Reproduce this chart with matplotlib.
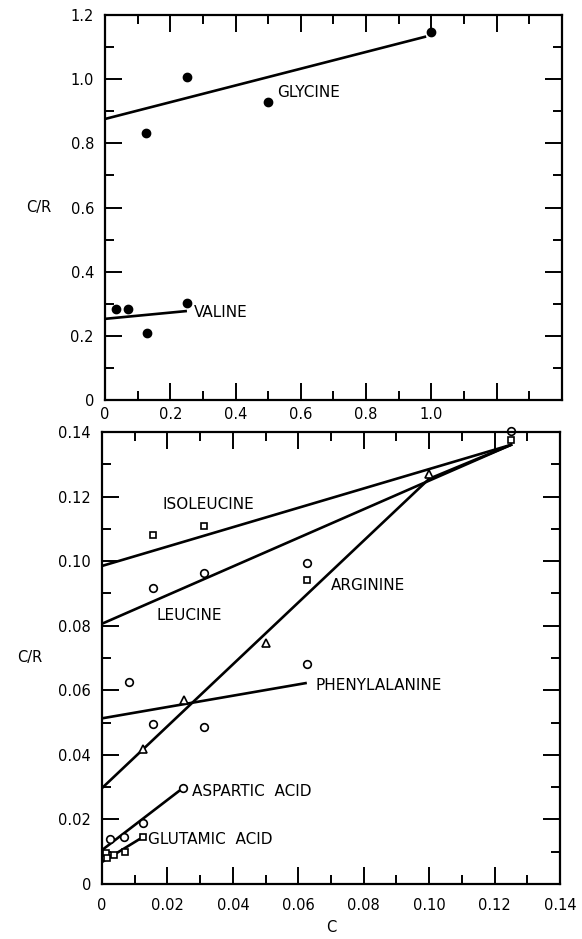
import matplotlib
matplotlib.use('Agg')
import matplotlib.pyplot as plt
from matplotlib.ticker import MultipleLocator, FixedLocator, FixedFormatter

# ---- top panel: glycine and valine (C vs C/R) ----
gly_c = [0.125, 0.25, 0.5, 1.0]
gly_cr = [0.832, 1.007, 0.929, 1.147]
gly_fit_c = [0.0, 0.98]
gly_fit_cr = [0.876, 1.132]

val_c = [0.035, 0.07, 0.13, 0.25]
val_cr = [0.284, 0.284, 0.209, 0.303]
val_fit_c = [0.0, 0.247]
val_fit_cr = [0.253, 0.277]

top_xticks = [0, 0.2, 0.4, 0.6, 0.8, 1.0, 1.2]
top_xlabels = ['0', '0.2', '0.4', '0.6', '0.8', '1.0', '']
top_yticks = [0, 0.2, 0.4, 0.6, 0.8, 1.0, 1.2]
top_ylabels = ['0', '0.2', '0.4', '0.6', '0.8', '1.0', '1.2']

# ---- bottom panel ----
ile_c = [0.0156, 0.0313, 0.0625, 0.125]
ile_cr = [0.108, 0.111, 0.094, 0.1375]
ile_fit_c = [0.0, 0.125]
ile_fit_cr = [0.0985, 0.136]

leu_c = [0.0156, 0.0313, 0.0625, 0.125]
leu_cr = [0.0917, 0.0963, 0.0994, 0.1403]
leu_fit_c = [0.0, 0.125]
leu_fit_cr = [0.0806, 0.136]

arg_c = [0.0125, 0.025, 0.05, 0.1]
arg_cr = [0.0419, 0.0571, 0.0745, 0.127]
arg_fit_c = [0.0, 0.1, 0.125]
arg_fit_cr = [0.0297, 0.1255, 0.136]

phe_c = [0.0083, 0.0156, 0.0313, 0.0625]
phe_cr = [0.0627, 0.0496, 0.0486, 0.0682]
phe_fit_c = [0.0, 0.0622]
phe_fit_cr = [0.0513, 0.0622]

asp_c = [0.0025, 0.0067, 0.0124, 0.0247]
asp_cr = [0.0138, 0.0144, 0.019, 0.0297]
asp_fit_c = [0.0, 0.0247]
asp_fit_cr = [0.0105, 0.0297]

glu_c = [0.0013, 0.0016, 0.0038, 0.0069, 0.0126]
glu_cr = [0.0097, 0.008, 0.009, 0.0099, 0.0146]
glu_fit_c = [0.0, 0.0126]
glu_fit_cr = [0.0068, 0.0146]

bot_ticks = [0, 0.02, 0.04, 0.06, 0.08, 0.10, 0.12, 0.14]
bot_labels = ['0', '0.02', '0.04', '0.06', '0.08', '0.10', '0.12', '0.14']

plt.rcParams['font.family'] = ['DejaVu Sans']
LW = 1.9
LBL = dict(fontsize=11, ha='left', va='center')


def style_axes(ax, xmaj, xlab, xmin, ymaj, ylab, ymin, xpad):
    ax.xaxis.set_major_locator(FixedLocator(xmaj))
    ax.xaxis.set_major_formatter(FixedFormatter(xlab))
    ax.yaxis.set_major_locator(FixedLocator(ymaj))
    ax.yaxis.set_major_formatter(FixedFormatter(ylab))
    ax.xaxis.set_minor_locator(MultipleLocator(xmin))
    ax.yaxis.set_minor_locator(MultipleLocator(ymin))
    ax.tick_params(which='both', direction='in', top=True, right=True,
                   width=1.4, labelsize=10.5)
    ax.tick_params(which='major', length=12)
    ax.tick_params(which='minor', length=6.5)
    ax.tick_params(axis='y', pad=8)
    ax.tick_params(axis='x', pad=xpad)
    for s in ax.spines.values():
        s.set_linewidth(1.6)


fig = plt.figure(figsize=(5.82, 9.39), dpi=100)

# top
ax1 = fig.add_axes([0.1804, 0.574, 0.7852, 0.410])
ax1.plot(gly_fit_c, gly_fit_cr, color='black', lw=LW)
ax1.plot(val_fit_c, val_fit_cr, color='black', lw=LW)
ax1.plot(gly_c, gly_cr, 'o', color='black', ms=6, clip_on=False)
ax1.plot(val_c, val_cr, 'o', color='black', ms=6, clip_on=False)
ax1.text(0.528, 0.958, 'GLYCINE', **LBL)
ax1.text(0.273, 0.273, 'VALINE', **LBL)
ax1.set_xlim(0, 1.4)
ax1.set_ylim(0, 1.2)
style_axes(ax1, top_xticks, top_xlabels, 0.1, top_yticks, top_ylabels, 0.1, 5)
ax1.set_ylabel('C/R', rotation=0, fontsize=10.5, va='center', ha='center')
ax1.yaxis.set_label_coords(-0.144, 0.5)

# bottom
ax2 = fig.add_axes([0.1753, 0.0586, 0.787, 0.4814])
for fc, fr in [(ile_fit_c, ile_fit_cr), (leu_fit_c, leu_fit_cr),
               (arg_fit_c, arg_fit_cr), (phe_fit_c, phe_fit_cr),
               (asp_fit_c, asp_fit_cr), (glu_fit_c, glu_fit_cr)]:
    ax2.plot(fc, fr, color='black', lw=LW)

open_mk = dict(color='black', mfc='white', linestyle='none', mew=1.2, clip_on=False)
ax2.plot(ile_c, ile_cr, 's', ms=4.5, **open_mk)
ax2.plot(leu_c, leu_cr, 'o', ms=5.5, **open_mk)
ax2.plot(arg_c, arg_cr, '^', ms=6, **open_mk)
ax2.plot(phe_c, phe_cr, 'o', ms=5.5, **open_mk)
ax2.plot(asp_c, asp_cr, 'o', ms=5.5, **open_mk)
ax2.plot(glu_c, glu_cr, 's', ms=4.5, **open_mk)

ax2.text(0.0185, 0.1174, 'ISOLEUCINE', **LBL)
ax2.text(0.0166, 0.0833, 'LEUCINE', **LBL)
ax2.text(0.0700, 0.0924, 'ARGININE', **LBL)
ax2.text(0.0651, 0.0614, 'PHENYLALANINE', **LBL)
ax2.text(0.0276, 0.0286, 'ASPARTIC  ACID', **LBL)
ax2.text(0.0140, 0.0138, 'GLUTAMIC  ACID', **LBL)

ax2.set_xlim(0, 0.14)
ax2.set_ylim(0, 0.14)
style_axes(ax2, bot_ticks, bot_labels, 0.01, bot_ticks, bot_labels, 0.01, 10)
ax2.set_ylabel('C/R', rotation=0, fontsize=10.5, va='center', ha='center')
ax2.yaxis.set_label_coords(-0.157, 0.5)
ax2.set_xlabel('C', fontsize=10.5, labelpad=5)

plt.savefig('out.png', dpi=100)
